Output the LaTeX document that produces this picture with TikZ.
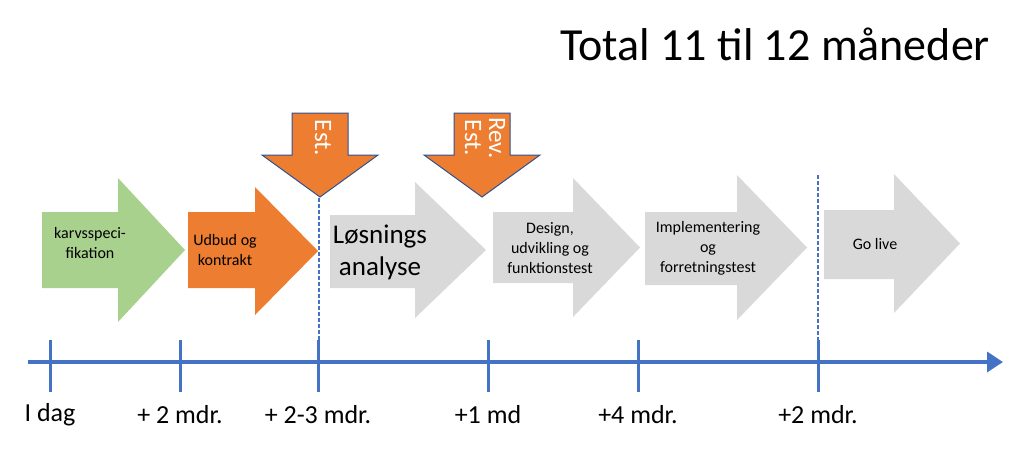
\documentclass[tikz,border=0pt]{standalone}
\usepackage{fontspec}
\setmainfont{Carlito}
\usetikzlibrary{arrows.meta}
\definecolor{axisblue}{HTML}{4472C4}
\definecolor{edgeblue}{HTML}{2F528F}
\definecolor{phaseorange}{HTML}{ED7D31}
\definecolor{phasegreen}{HTML}{A9D18E}
\definecolor{phasegray}{HTML}{D9D9D9}
% block arrow: body x0, head x1, tip x2, body top/bottom, head top/bottom
\newcommand{\phasearrow}[8]{%
  \fill[#1] (#2,#5) -- (#3,#5) -- (#3,#7) -- (#4,{(#7+#8)/2}) -- (#3,#8) -- (#3,#6) -- (#2,#6) -- cycle;}
\newcommand{\estarrow}[3]{%
  \filldraw[fill=phaseorange, draw=edgeblue, line width=1pt] (#1-28,113) -- (#1+28,113) -- (#1+28,155) -- (#1+58,155) -- (#1,197) -- (#1-58,155) -- (#1-28,155) -- cycle;
  \node[rotate=-90, text=white, font=\fontsize{25}{24}\selectfont, align=center] (#2) at (#1+3,138) {#3};}
\begin{document}
\begin{tikzpicture}[x=1pt, y=-1pt,
    phase/.style={align=center, font=\fontsize{16}{20}\selectfont},
    bigphase/.style={align=center, font=\fontsize{27}{32}\selectfont},
    tick/.style={axisblue, line width=3pt},
    ticklabel/.style={font=\fontsize{26}{28}\selectfont},
    guide/.style={axisblue, dashed, line width=1.3pt, dash pattern=on 4pt off 2pt}]
    \useasboundingbox (0,0) rectangle (1024,448);
    % Title
    \node[font=\fontsize{46}{48}\selectfont] (title) at (775,44) {Total 11 til 12 måneder};
    % Phase arrows
    \phasearrow{phasegreen}{42}{118}{185}{212}{288}{178}{322}
    \phasearrow{phaseorange}{188}{255}{318}{212}{288}{187}{315}
    \phasearrow{phasegray}{330}{415}{486}{215}{288}{182}{318}
    \phasearrow{phasegray}{493}{573}{640}{212}{283}{178}{317}
    \phasearrow{phasegray}{645}{737}{807}{212}{285}{175}{320}
    \phasearrow{phasegray}{824}{894}{960}{210}{279}{174}{313}
    \node[phase] (p1) at (90,243) {karvsspeci-\\fikation};
    \node[phase] (p2) at (225,250) {Udbud og\\kontrakt};
    \node[bigphase] (p3) at (380,252) {Løsnings\\analyse};
    \node[phase] (p4) at (550,248) {Design,\\udvikling og\\funktionstest};
    \node[phase] (p5) at (708,248) {Implementering\\og\\forretningstest};
    \node[phase] (p6) at (875,244) {Go live};
    % Estimate arrows
    \estarrow{320}{e1}{Est.}
    \estarrow{482}{e2}{Rev.\\Est.}
    % Timeline
    \coordinate (t0) at (28,362);
    \coordinate (tend) at (1003,362);
    \draw[axisblue, line width=3.5pt, -{Triangle[length=16pt, width=20pt]}] (t0) -- (tend);
    \foreach \x/\lab [count=\i] in {50/I dag, 180/+ 2 mdr., 318/+ 2-3 mdr., 488/+1 md, 638/+4 mdr., 818/+2 mdr.}{
      \draw[tick] (\x,340) -- (\x,392);
      \node[ticklabel] (l\i) at (\x,415) {\lab};
    }
    % Guide lines
    \draw[guide] (319,198) -- (319,340);
    \draw[guide] (818,175) -- (818,340);
\end{tikzpicture}
\end{document}
